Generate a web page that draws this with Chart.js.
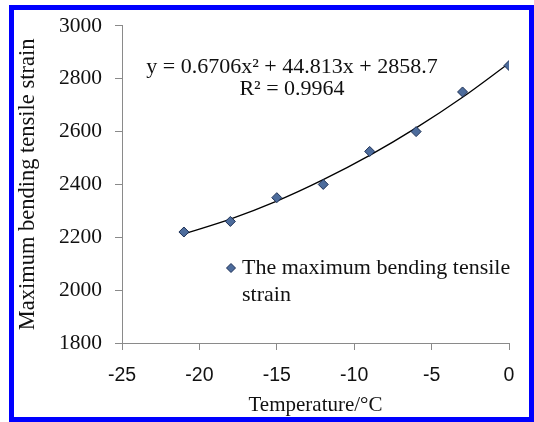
<!DOCTYPE html>
<html>
<head>
<meta charset="utf-8">
<script src="https://cdn.jsdelivr.net/npm/chart.js@4/dist/chart.umd.min.js"></script>
<style>
  html, body { margin: 0; padding: 0; background: #ffffff; }
  #wrap { position: relative; width: 534px; height: 422px; overflow: hidden; background: #fff; }
  #c { position: absolute; left: 0; top: 0; }
  #frame { position: absolute; left: 9px; top: 5px; right: 0; bottom: 0; border: 5px solid #0000ff; pointer-events: none; }
</style>
</head>
<body>
<div id="wrap">
  <canvas id="c" width="534" height="422"></canvas>
  <div id="frame"></div>
</div>
<script>
// ---- data ----
const temperatures = [-21, -18, -15, -12, -9, -6, -3, 0];
const strainValues = [2220, 2260, 2350, 2400, 2525, 2600, 2750, 2850];
// trend line (2nd-order polynomial fit shown on the chart), read at the same temperatures
const trendValues = [2213, 2269, 2337, 2418, 2510, 2614, 2730, 2859];
const xTicks = [-25, -20, -15, -10, -5, 0];
const yTicks = [1800, 2000, 2200, 2400, 2600, 2800, 3000];
const seriesName = "The maximum bending tensile strain";
const legendLines = ["The maximum bending tensile", "strain"];
const equationText = "y = 0.6706x\u00B2 + 44.813x + 2858.7";
const r2Text = "R\u00B2 = 0.9964";
const xTitle = "Temperature/\u00B0C";
const yTitle = "Maximum bending tensile strain";

const serif = "'Liberation Serif', 'Times New Roman', serif";
const sans = "'Liberation Sans', Arial, sans-serif";
const markerFill = '#4d6c9c';
const markerBorder = '#1c2f55';

const annotationPlugin = {
  id: 'annot',
  afterDatasetsDraw(chart) {
    const ctx = chart.ctx;
    ctx.save();
    ctx.fillStyle = '#111';
    ctx.font = "22px " + serif;
    ctx.textAlign = 'center';
    ctx.textBaseline = 'middle';
    ctx.fillText(equationText, 292, 67);
    ctx.fillText(r2Text, 292, 89);
    // legend
    ctx.textAlign = 'left';
    ctx.fillText(legendLines[0], 242, 268);
    ctx.fillText(legendLines[1], 242, 295);
    // legend marker
    const mx = 231, my = 268, r = 4.5;
    ctx.beginPath();
    ctx.moveTo(mx, my - r);
    ctx.lineTo(mx + r, my);
    ctx.lineTo(mx, my + r);
    ctx.lineTo(mx - r, my);
    ctx.closePath();
    ctx.fillStyle = markerFill;
    ctx.fill();
    ctx.strokeStyle = markerBorder;
    ctx.lineWidth = 1;
    ctx.stroke();
    ctx.restore();
  }
};

new Chart(document.getElementById('c'), {
  type: 'scatter',
  data: {
    datasets: [
      {
        label: seriesName,
        data: temperatures.map((t, i) => ({ x: t, y: strainValues[i] })),
        pointStyle: 'rectRot',
        pointRadius: 5,
        pointBackgroundColor: markerFill,
        pointBorderColor: markerBorder,
        pointBorderWidth: 1,
        showLine: false,
        order: 0
      },
      {
        label: 'Poly. trend',
        data: temperatures.map((t, i) => ({ x: t, y: trendValues[i] })),
        showLine: true,
        borderColor: '#000',
        borderWidth: 1.3,
        pointRadius: 0,
        cubicInterpolationMode: 'monotone',
        fill: false,
        order: 1
      }
    ]
  },
  options: {
    responsive: false,
    animation: false,
    devicePixelRatio: 1,
    layout: { padding: { left: 0, top: 21, right: 25, bottom: 0 } },
    plugins: { legend: { display: false }, tooltip: { enabled: false } },
    scales: {
      x: {
        type: 'linear',
        min: -25, max: 0,
        afterBuildTicks: s => { s.ticks = xTicks.map(v => ({ value: v })); },
        afterFit: s => { s.height = 79; },
        grid: { display: true, drawOnChartArea: false, drawTicks: true, tickLength: 7, color: '#8a8a8a' },
        border: { display: true, color: '#8a8a8a', width: 1 },
        ticks: { color: '#111', font: { family: sans, size: 19.5 }, padding: 14, maxRotation: 0, callback: v => String(v) },
        title: { display: true, text: xTitle, color: '#111', font: { family: serif, size: 21 }, padding: 4 }
      },
      y: {
        type: 'linear',
        min: 1800, max: 3000,
        afterBuildTicks: s => { s.ticks = yTicks.map(v => ({ value: v })); },
        afterFit: s => { s.width = 122; },
        grid: { display: true, drawOnChartArea: false, drawTicks: true, tickLength: 7, color: '#8a8a8a' },
        border: { display: true, color: '#8a8a8a', width: 1 },
        ticks: { color: '#111', font: { family: serif, size: 21.5 }, padding: 13, callback: v => String(v) },
        title: { display: true, text: yTitle, color: '#111', font: { family: serif, size: 22.5 }, padding: 15 }
      }
    }
  },
  plugins: [annotationPlugin]
});
</script>
</body>
</html>
